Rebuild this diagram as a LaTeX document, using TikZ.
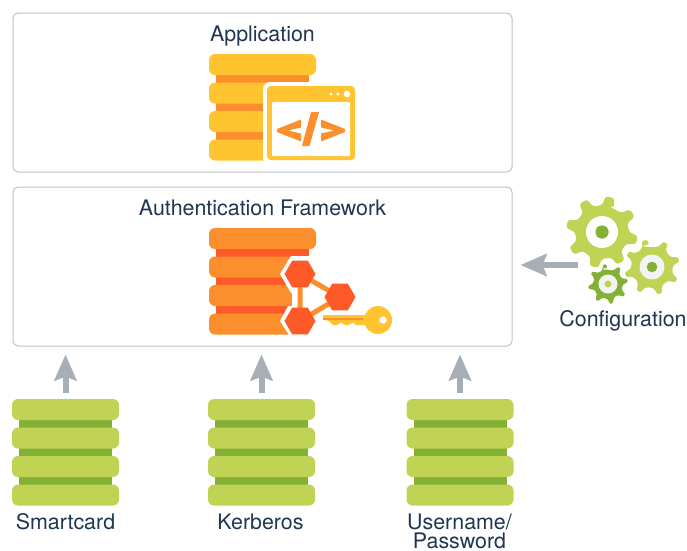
\documentclass[tikz,border=0pt]{standalone}
\usepackage{fontspec}
\setmainfont{TeX Gyre Heros}
\usetikzlibrary{arrows.meta}

\definecolor{framegray}{HTML}{BCC1C7}
\definecolor{arrowgray}{HTML}{A8AEB5}
\definecolor{textnavy}{HTML}{1F3552}
\definecolor{yellowlight}{HTML}{FFC430}
\definecolor{orangelight}{HTML}{FB8F2D}
\definecolor{orangedark}{HTML}{FE5A27}
\definecolor{greenlight}{HTML}{C0D354}
\definecolor{greendark}{HTML}{82B135}
\definecolor{ringgray}{HTML}{F2F4F3}

\tikzset{
    panel/.style={draw=framegray, line width=1pt, rounded corners=5pt, minimum width=499pt, minimum height=159pt, inner sep=0pt},
    caption/.style={text=textnavy, font=\fontsize{21.4}{19}\selectfont, align=center, inner sep=0pt},
    flow/.style={draw=arrowgray, line width=6pt, -{Stealth[length=26pt, width=22pt, inset=4pt]}},
    stackspot/.style={minimum width=107pt, minimum height=107pt, inner sep=0pt},
}

% one stack of four discs, top left corner at #1, colours #2 and #3
\newcommand{\dbstack}[3]{
    \begin{scope}[shift={(#1)}]
    \fill[#3] (7,10) rectangle (100,96);
    \foreach \row in {0,28.5,57,85.5}
        \fill[#2, rounded corners=6pt] (0,\row) rectangle (107,\row+21);
    \end{scope}
}

% gear at #1, outer radius #2, root radius #3, #4 teeth, turned by #5
\newcommand{\gearfill}[6]{
    \path[#6, rounded corners=2.5pt, shift={(#1)}] (#5:#3)
        \foreach \k [evaluate=\k as \a using #5+\k*360/#4] in {1,...,#4} {
            -- ({\a-0.29*360/#4}:#3) -- ({\a-0.15*360/#4}:#2) -- ({\a+0.15*360/#4}:#2) -- ({\a+0.29*360/#4}:#3)
        } -- cycle;
}

\begin{document}
\begin{tikzpicture}[x=1pt, y=-1pt]

    \useasboundingbox (0,0) rectangle (687,550);

    \node[panel] (application) at (262.5,92.5) {};
    \node[panel] (framework) at (262.5,266.5) {};

    \node[caption, anchor=base] (applicationlabel) at (262.5,41) {Application};
    \node[caption, anchor=base] (frameworklabel) at (262.5,215) {Authentication Framework};

    % application stack with the code window
    \dbstack{209,54}{yellowlight}{orangelight}
    \fill[white, rounded corners=7pt] (263,82) rectangle (360,165);
    \fill[yellowlight, rounded corners=4pt] (267,86) rectangle (355,160);
    \fill[white, rounded corners=1pt] (272,102) rectangle (350,156);
    \fill[white] (347,94) circle (3.3);
    \fill[white] (338,94) circle (1.7);
    \fill[white] (331,94) circle (1.7);
    \fill[orangelight] (301,119.5) -- (277,129) -- (277,132) -- (301,141.5) -- (301,133.5) -- (288,130.5) -- (301,127.5) -- cycle;
    \fill[orangelight] (321,119.5) -- (345,129) -- (345,132) -- (321,141.5) -- (321,133.5) -- (334,130.5) -- (321,127.5) -- cycle;
    \fill[orangelight] (311,112) -- (319,112) -- (309.5,146) -- (302,146) -- cycle;

    % framework stack, hexagons and key
    \dbstack{209,228}{orangelight}{orangedark}
    \fill[white] (291,256) -- (280,274) -- (291,293) -- (292,293) -- (292,306) -- (288,306) -- (280,321) -- (291,338) -- (325,338) -- (325,256) -- cycle;

    \coordinate (hexa) at (300,274);
    \coordinate (hexb) at (340,297);
    \coordinate (hexc) at (300,321);
    \draw[orangelight, line width=5pt] (hexa) -- (hexb) -- (hexc) -- cycle;
    \foreach \spot in {hexa,hexb,hexc}
        \fill[orangedark, shift={(\spot)}] (0:15.5) -- (60:15.5) -- (120:15.5) -- (180:15.5) -- (240:15.5) -- (300:15.5) -- cycle;

    \fill[white] (322,313) rectangle (368,328);
    \fill[yellowlight] (323,315) -- (370,315) -- (370,325) -- (356,325) -- (353,322.5) -- (349,325) -- (345,325) -- (341,322.5) -- (337,325) -- (333,325) -- (329,321) -- (325,320) -- (323,318) -- cycle;
    \fill[orangelight] (323,317.5) rectangle (363,320);
    \fill[yellowlight] (378,320) circle (14);
    \fill[white] (383,320) circle (3.7);

    % gears
    \gearfill{602,232}{36}{27}{8}{-77}{fill=greenlight}
    \fill[white] (602,232) circle (16);
    \fill[greendark] (602,232) circle (6.6);

    \gearfill{652,267}{29}{22}{8}{-106}{fill=greenlight, draw=white, line width=2pt}
    \fill[ringgray] (652,267) circle (12.5);
    \fill[greendark] (652,267) circle (5.3);

    \gearfill{608,284}{21}{15.5}{8}{-100}{fill=greendark, draw=white, line width=1.5pt}
    \fill[ringgray] (608,284) circle (9.5);
    \fill[greenlight] (608,284) circle (3.5);

    \node[caption, anchor=base] (configlabel) at (623,326) {Configuration};
    \coordinate (configout) at (578,265);
    \draw[flow, shorten >=8pt] (configout) -- (configout -| framework.east);

    % bottom stacks
    \dbstack{12,399}{greenlight}{greendark}
    \dbstack{208,399}{greenlight}{greendark}
    \dbstack{406.5,399}{greenlight}{greendark}

    \node[stackspot] (smartcard) at (65.5,452.5) {};
    \node[stackspot] (kerberos) at (261.5,452.5) {};
    \node[stackspot] (password) at (460,452.5) {};

    \node[caption, anchor=base] (smartcardlabel) at (65.5,529) {Smartcard};
    \node[caption, anchor=base] (kerberoslabel) at (260.5,529) {Kerberos};
    \node[caption, anchor=north] (passwordlabel) at (459.5,513.4) {Username/\\Password};

    \foreach \src in {smartcard,kerberos,password}
        \draw[flow, shorten <=6pt, shorten >=8pt] (\src.north) -- (\src.north |- framework.south);

\end{tikzpicture}
\end{document}
